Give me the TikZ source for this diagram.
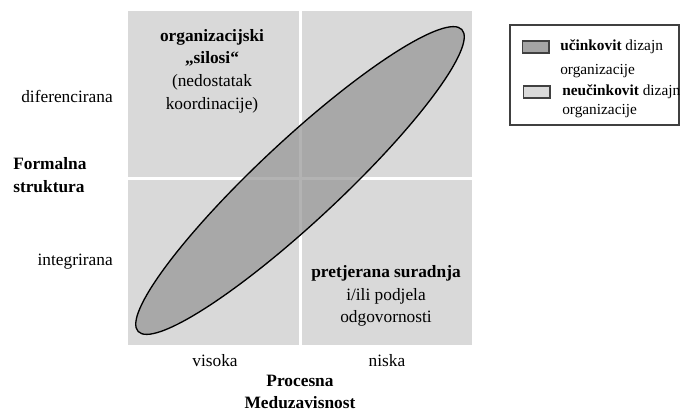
\documentclass[tikz,border=0pt]{standalone}
\usepackage{fontspec}
\setmainfont{Liberation Serif}
\usetikzlibrary{positioning}
\definecolor{kvad}{HTML}{D9D9D9}
\definecolor{elip}{HTML}{949494}
\definecolor{okvir}{HTML}{404040}

\begin{document}
\begin{tikzpicture}[x=0.75pt, y=-0.75pt,
                tekst/.style={font=\fontsize{13}{17}\selectfont, align=center, inner sep=0pt},
                naslov/.style={tekst, font=\fontsize{13}{17}\selectfont\bfseries},
                legtekst/.style={font=\fontsize{11.5}{14}\selectfont, anchor = west, inner sep=0pt},
                uzorak/.style={draw = okvir, line width=1pt, minimum width=20pt, minimum height=9pt, inner sep=0pt}]
            \useasboundingbox (0,0) rectangle (681,412);
            % kvadranti
            \fill[kvad] (128,11) rectangle (298.5,176.5);
            \fill[kvad] (301.5,11) rectangle (472,176.5);
            \fill[kvad] (128,179.5) rectangle (298.5,345);
            \fill[kvad] (301.5,179.5) rectangle (472,345);
            % elipsa
            \draw[fill = elip, fill opacity=0.71, line width=1pt, rotate around={43:(300,180.5)}]
                (300,180.5) ellipse [x radius=166pt, y radius=30.5pt];
            % tekst u kvadrantima
            \node[tekst] (silosi) at (212,71) {\textbf{organizacijski}\\\textbf{„silosi“}\\(nedostatak\\koordinacije)};
            \node[tekst] (suradnja) at (386,296) {\textbf{pretjerana suradnja}\\i/ili podjela\\odgovornosti};
            % os y
            \node[tekst, anchor = east] (difer) at (113,96) {diferencirana};
            \node[tekst, anchor = east] (integ) at (113,262) {integrirana};
            \node[naslov, anchor = west, align = left] (formal) at (13,175) {Formalna\\struktura};
            % os x
            \node[tekst] (visoka) at (215,361) {visoka};
            \node[tekst] (niska) at (387,361) {niska};
            \node[naslov] (proces) at (300,392) {Procesna\\Meduzavisnost};
            % legenda
            \draw[okvir, line width=1pt] (510,25) rectangle (679,125);
            \node[uzorak, fill = elip!85] (uc) at (535.5,47) {};
            \node[uzorak, fill = kvad] (neuc) at (536.5,92) {};
            \node[legtekst] (uctekst) at (560,47) {\textbf{učinkovit} dizajn};
            \node[legtekst] (ucorg) at (560,71) {organizacije};
            \node[legtekst] (neuctekst) at (562,92) {\textbf{neučinkovit} dizajn};
            \node[legtekst] (neucorg) at (562,111) {organizacije};
        \end{tikzpicture}
\end{document}
